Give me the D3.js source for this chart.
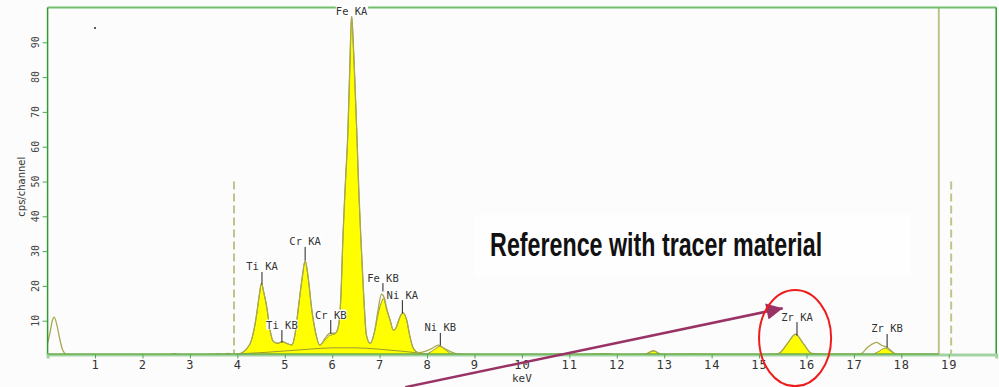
<!DOCTYPE html>
<html>
<head>
<meta charset="utf-8">
<script src="https://cdn.jsdelivr.net/npm/d3@7"></script>
<style>
  body { margin: 0; background: #ffffff; }
  svg { display: block; }
</style>
</head>
<body>
<div class="chart"></div>
<script>
// tick labels
var xTicks = [1, 2, 3, 4, 5, 6, 7, 8, 9, 10, 11, 12, 13, 14, 15, 16, 17, 18, 19];
var yTicks = [10, 20, 30, 40, 50, 60, 70, 80, 90];

// measured spectrum [keV, cps]
var spectrum = [
  [0.00, 3.5], [0.05, 6.5], [0.10, 10.0], [0.14, 11.0], [0.20, 8.5], [0.26, 4.5], [0.32, 1.5],
  [0.40, 0.3], [0.60, 0.1], [1.00, 0.1], [1.50, 0.1], [2.00, 0.1], [2.50, 0.15], [2.70, 0.5],
  [2.75, 0.1], [3.00, 0.2], [3.50, 0.3], [3.60, 0.5], [3.70, 0.3], [3.80, 0.6], [3.90, 0.3],
  [4.00, 0.4], [4.10, 0.8], [4.20, 2.0], [4.30, 4.5], [4.36, 8.0], [4.41, 12.1], [4.46, 17.0],
  [4.51, 20.7], [4.56, 18.0], [4.62, 14.0], [4.69, 7.3], [4.76, 4.0], [4.86, 3.5], [4.94, 4.0],
  [5.04, 3.5], [5.15, 3.0], [5.22, 6.4], [5.29, 14.0], [5.37, 22.6], [5.43, 27.2], [5.50, 21.7],
  [5.57, 13.1], [5.64, 7.3], [5.74, 3.0], [5.85, 4.9], [5.95, 6.4], [6.06, 6.4], [6.13, 8.3],
  [6.18, 15.9], [6.23, 35.1], [6.28, 50.0], [6.33, 63.8], [6.37, 82.0], [6.41, 97.4], [6.45, 88.0],
  [6.52, 63.8], [6.56, 48.0], [6.60, 35.1], [6.67, 15.9], [6.72, 6.0], [6.80, 3.5], [6.90, 7.3],
  [6.96, 12.5], [7.04, 17.6], [7.10, 16.5], [7.15, 13.5], [7.22, 10.2], [7.29, 7.3], [7.34, 7.8],
  [7.43, 11.1], [7.49, 12.3], [7.57, 10.2], [7.64, 5.4], [7.71, 2.1], [7.82, 0.8], [7.96, 1.2],
  [8.10, 2.0], [8.24, 3.0], [8.38, 1.9], [8.59, 0.6], [8.80, 0.3], [9.50, 0.2], [10.50, 0.2],
  [10.87, 0.5], [11.00, 0.2], [11.80, 0.5], [12.00, 0.2], [12.60, 0.4], [12.77, 1.4], [12.95, 0.3],
  [13.60, 0.4], [14.50, 0.2], [15.30, 0.3], [15.44, 0.8], [15.60, 3.5], [15.77, 6.1], [15.93, 3.5],
  [16.11, 0.6], [16.50, 0.3], [17.13, 0.4], [17.30, 2.5], [17.48, 3.8], [17.60, 2.8], [17.69, 2.4],
  [17.90, 0.4], [18.30, 0.3], [18.79, 0.3]
];

// identified peak areas (yellow) [keV, cps]
var fitted = [
  [3.95, 0.2], [4.10, 0.8], [4.20, 2.0], [4.30, 4.5], [4.36, 8.0], [4.41, 12.1], [4.46, 17.0],
  [4.51, 20.7], [4.56, 18.0], [4.62, 14.0], [4.69, 7.3], [4.76, 4.0], [4.86, 3.5], [4.94, 4.0],
  [5.04, 3.5], [5.15, 3.0], [5.22, 6.4], [5.29, 14.0], [5.37, 22.6], [5.43, 27.2], [5.50, 21.7],
  [5.57, 13.1], [5.64, 7.3], [5.74, 3.0], [5.85, 4.5], [5.95, 5.8], [6.06, 6.2], [6.13, 8.3],
  [6.18, 15.9], [6.23, 35.1], [6.28, 50.0], [6.33, 63.8], [6.37, 82.0], [6.41, 97.4], [6.45, 88.0],
  [6.52, 63.8], [6.56, 48.0], [6.60, 35.1], [6.67, 15.9], [6.72, 6.0], [6.80, 3.5], [6.90, 7.3],
  [6.97, 12.0], [7.03, 15.0], [7.08, 16.4], [7.15, 13.1], [7.22, 10.2], [7.29, 7.3], [7.34, 7.8],
  [7.43, 11.1], [7.49, 12.3], [7.57, 10.2], [7.64, 5.4], [7.71, 2.1], [7.82, 0.8], [7.95, 0.3],
  [8.10, 1.2], [8.27, 2.6], [8.40, 1.5], [8.55, 0.2], [8.80, 0.1], [10.80, 0.1], [10.90, 0.4],
  [11.00, 0.1], [11.70, 0.1], [11.80, 0.4], [11.90, 0.1], [12.60, 0.2], [12.77, 1.3], [12.95, 0.2],
  [15.30, 0.1], [15.44, 0.8], [15.60, 3.5], [15.77, 6.1], [15.93, 3.5], [16.11, 0.6], [16.30, 0.1],
  [17.34, 0.1], [17.50, 1.0], [17.66, 2.1], [17.80, 1.0], [17.92, 0.1], [18.79, 0.1]
];

// fitted background under the peaks
var background = [
  [3.95, 0.3], [4.20, 0.6], [4.60, 0.9], [5.00, 1.3], [5.50, 1.8], [6.00, 2.2], [6.50, 2.2],
  [7.00, 1.8], [7.50, 1.2], [7.90, 0.6], [8.10, 0.3]
];

// peak identification markers
var peakNames = ['Ti  KA', 'Ti  KB', 'Cr  KA', 'Cr  KB', 'Fe  KA', 'Fe  KB', 'Ni  KA', 'Ni  KB', 'Zr  KA', 'Zr  KB'];
var peakKeV = [4.52, 4.94, 5.43, 5.97, 6.41, 7.07, 7.48, 8.28, 15.80, 17.70];
var peakTop = [20.4, 3.7, 27.3, 6.3, 97.4, 18.4, 12.1, 2.9, 5.7, 2.3];
var markerTop = [24.0, 7.3, 31.2, 10.2, 97.4, 20.8, 15.9, 6.5, 9.6, 6.2];

// region markers
var roiStart = 3.93;
var roiEnd = 19.05;
var roiHeight = 50;
var cutoff = 18.79;
var cursor = [1.0, 94.1];

// annotation
var noteText = 'Reference with tracer material';
var noteAt = [9.33, 28.5];
var arrowFrom = [7.54, -9.1];
var arrowTo = [15.5, 13.6];
var circleAt = [15.76, 5.0];
var circleR = [0.76, 13.8];

var margin = { top: 7.5, right: 2.8, bottom: 31.5, left: 47.6 };
var width = 999;
var height = 387;

var svg = d3.select('.chart')
  .append('svg')
  .attr('width', width)
  .attr('height', height);

var xScale = d3.scaleLinear()
  .domain([0, 20])
  .range([margin.left, width - margin.right]);

var yScale = d3.scaleLinear()
  .domain([0, 100])
  .range([height - margin.bottom, margin.top]);

svg.append('rect')
  .attr('x', 0).attr('y', 0)
  .attr('width', width).attr('height', height)
  .attr('fill', '#fcfcfc');

// faint box behind the note
svg.append('rect')
  .attr('x', xScale(9.0)).attr('y', yScale(40.5))
  .attr('width', xScale(18.2) - xScale(9.0))
  .attr('height', yScale(22.5) - yScale(40.5))
  .attr('fill', '#fefefe');

var area = d3.area()
  .x(d => xScale(d[0]))
  .y0(yScale(0))
  .y1(d => yScale(d[1]))
  .curve(d3.curveMonotoneX);

var line = d3.line()
  .x(d => xScale(d[0]))
  .y(d => yScale(d[1]))
  .curve(d3.curveMonotoneX);

svg.append('path')
  .attr('d', area(fitted))
  .attr('fill', '#ffff00')
  .attr('stroke', '#9a9a30')
  .attr('stroke-width', 1);

svg.append('path')
  .attr('d', line(background))
  .attr('fill', 'none')
  .attr('stroke', '#9a9a30')
  .attr('stroke-width', 1);

svg.append('path')
  .attr('d', line(spectrum))
  .attr('fill', 'none')
  .attr('stroke', '#a8a850')
  .attr('stroke-width', 1.3);

// region of interest limits
svg.selectAll('.roi')
  .data([roiStart, roiEnd])
  .enter()
  .append('line')
  .attr('class', 'roi')
  .attr('x1', d => xScale(d)).attr('x2', d => xScale(d))
  .attr('y1', yScale(roiHeight)).attr('y2', yScale(0))
  .attr('stroke', '#c2c28a')
  .attr('stroke-width', 2)
  .attr('stroke-dasharray', '8,4');

svg.append('line')
  .attr('x1', xScale(cutoff)).attr('x2', xScale(cutoff))
  .attr('y1', yScale(100)).attr('y2', yScale(0))
  .attr('stroke', '#c2c28a')
  .attr('stroke-width', 2);

svg.append('rect')
  .attr('x', xScale(cursor[0]) - 1).attr('y', yScale(cursor[1]) - 1)
  .attr('width', 2).attr('height', 2)
  .attr('fill', '#555');

// frame
svg.append('line')
  .attr('x1', xScale(0)).attr('x2', xScale(20))
  .attr('y1', yScale(100)).attr('y2', yScale(100))
  .attr('stroke', '#6fbf6f').attr('stroke-width', 2);

svg.selectAll('.side')
  .data([0, 20])
  .enter()
  .append('line')
  .attr('class', 'side')
  .attr('x1', d => xScale(d)).attr('x2', d => xScale(d))
  .attr('y1', yScale(100)).attr('y2', yScale(0))
  .attr('stroke', '#2f9a2f').attr('stroke-width', 1.5);

// x axis
var xAxis = g => g
  .attr('transform', `translate(0, ${yScale(0) - 1})`)
  .call(d3.axisBottom(xScale).tickValues(xTicks).tickSize(4).tickPadding(2).tickFormat(d3.format('d')))
  .call(g => g.select('.domain').attr('stroke', '#a3d3a3').attr('stroke-width', 3))
  .call(g => g.selectAll('.tick line').attr('stroke', '#4caa4c'))
  .call(g => g.selectAll('.tick text')
    .attr('fill', '#333')
    .attr('font-family', 'DejaVu Sans Mono')
    .attr('font-size', 12)
    .attr('letter-spacing', 1));

svg.append('g').call(xAxis);

svg.append('line')
  .attr('x1', xScale(0)).attr('x2', xScale(cutoff))
  .attr('y1', yScale(0) - 1.5).attr('y2', yScale(0) - 1.5)
  .attr('stroke', '#4e9a1e').attr('stroke-width', 1);

// y axis
var yAxis = g => g
  .attr('transform', `translate(${xScale(0)}, 0)`)
  .call(d3.axisLeft(yScale).tickValues(yTicks).tickSize(5).tickFormat(''))
  .call(g => g.select('.domain').remove())
  .call(g => g.selectAll('.tick line').attr('stroke', '#4caa4c'));

svg.append('g').call(yAxis);

svg.selectAll('.ylabel')
  .data(yTicks)
  .enter()
  .append('text')
  .attr('class', 'ylabel')
  .attr('transform', d => `translate(35, ${yScale(d)}) rotate(-90)`)
  .attr('text-anchor', 'middle')
  .attr('dominant-baseline', 'central')
  .attr('font-family', 'DejaVu Sans Mono')
  .attr('font-size', 10)
  .attr('fill', '#444')
  .text(d => d);

svg.append('text')
  .attr('transform', `translate(21, ${yScale(48.5)}) rotate(-90)`)
  .attr('text-anchor', 'middle')
  .attr('dominant-baseline', 'central')
  .attr('font-family', 'DejaVu Sans')
  .attr('font-size', 10)
  .attr('fill', '#333')
  .text('cps/channel');

svg.append('text')
  .attr('x', xScale(10))
  .attr('y', 382)
  .attr('text-anchor', 'middle')
  .attr('font-family', 'DejaVu Sans Mono')
  .attr('font-size', 11)
  .attr('fill', '#333')
  .text('keV');

// peak markers and labels
var marks = svg.selectAll('.peak')
  .data(peakNames.map((name, i) => ({ name: name, keV: peakKeV[i], top: peakTop[i], mark: markerTop[i] })))
  .enter()
  .append('g')
  .attr('class', 'peak');

marks.append('line')
  .attr('x1', d => xScale(d.keV)).attr('x2', d => xScale(d.keV))
  .attr('y1', d => yScale(d.mark)).attr('y2', d => yScale(d.top))
  .attr('stroke', '#222').attr('stroke-width', 1);

marks.append('text')
  .attr('x', d => xScale(d.keV))
  .attr('y', d => yScale(d.mark) - 1.5)
  .attr('text-anchor', 'middle')
  .attr('font-family', 'DejaVu Sans Mono')
  .attr('font-size', 10.5)
  .attr('fill', '#333')
  .text(d => d.name)
  .each(function () {
    var b = this.getBBox();
    d3.select(this.parentNode).insert('rect', 'text')
      .attr('x', b.x).attr('y', b.y + 1)
      .attr('width', b.width).attr('height', b.height - 2)
      .attr('fill', '#ffffff');
  });

// annotation
svg.append('text')
  .attr('x', xScale(noteAt[0]))
  .attr('y', yScale(noteAt[1]))
  .attr('font-family', 'Liberation Sans, Arial, sans-serif')
  .attr('font-weight', 'bold')
  .attr('font-size', 33)
  .attr('textLength', 332)
  .attr('lengthAdjust', 'spacingAndGlyphs')
  .attr('fill', '#111')
  .text(noteText);

svg.append('defs')
  .append('marker')
  .attr('id', 'head')
  .attr('viewBox', '0 0 10 10')
  .attr('refX', 10).attr('refY', 5)
  .attr('markerWidth', 7.5).attr('markerHeight', 6.5)
  .attr('markerUnits', 'strokeWidth')
  .attr('orient', 'auto')
  .append('path')
  .attr('d', 'M0,0 L10,5 L0,10 Z')
  .attr('fill', '#993366');

svg.append('line')
  .attr('x1', xScale(arrowFrom[0])).attr('y1', yScale(arrowFrom[1]))
  .attr('x2', xScale(arrowTo[0])).attr('y2', yScale(arrowTo[1]))
  .attr('stroke', '#993366')
  .attr('stroke-width', 2.5)
  .attr('marker-end', 'url(#head)');

svg.append('ellipse')
  .attr('cx', xScale(circleAt[0])).attr('cy', yScale(circleAt[1]))
  .attr('rx', xScale(circleR[0]) - xScale(0))
  .attr('ry', yScale(0) - yScale(circleR[1]))
  .attr('fill', 'none')
  .attr('stroke', '#ee1c1c')
  .attr('stroke-width', 2);
</script>
</body>
</html>
